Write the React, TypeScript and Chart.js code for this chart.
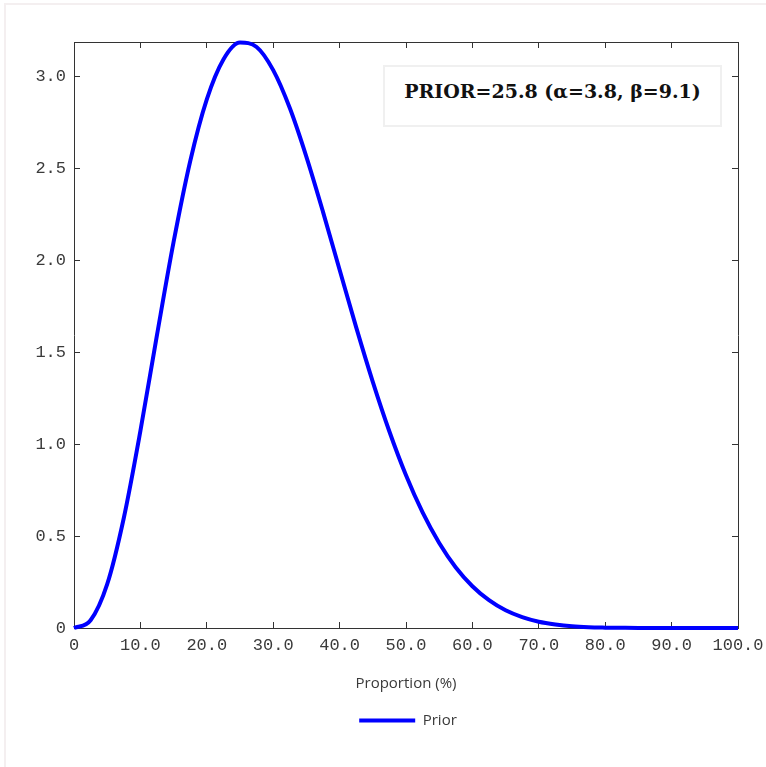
import React, { useEffect, useRef } from "react";
import { Chart, registerables } from "chart.js";

Chart.register(...registerables);

const proportions = [
  0, 2.5, 5, 7.5, 10, 12.5, 15, 17.5, 20, 22.5, 25, 27.5, 30, 32.5, 35, 37.5, 40,
  42.5, 45, 47.5, 50, 52.5, 55, 57.5, 60, 62.5, 65, 67.5, 70, 72.5, 75, 77.5, 80,
  82.5, 85, 87.5, 90, 92.5, 95, 97.5, 100,
];
const priorDensity = [
  0, 0.042, 0.238, 0.598, 1.071, 1.593, 2.098, 2.537, 2.873, 3.09, 3.182, 3.158,
  3.032, 2.826, 2.561, 2.262, 1.947, 1.634, 1.338, 1.068, 0.83, 0.628, 0.462,
  0.329, 0.227, 0.151, 0.096, 0.059, 0.034, 0.019, 0.009, 0.004, 0.002, 0.001,
  0.0002, 0, 0, 0, 0, 0, 0,
];
const xTickValues = [0, 10, 20, 30, 40, 50, 60, 70, 80, 90, 100];
const yTickValues = [0, 0.5, 1, 1.5, 2, 2.5, 3];
const seriesLabel = "Prior";
const xTitle = "Proportion (%)";
const annotationText = "PRIOR=25.8 (α=3.8, β=9.1)";

const LEFT = 74;
const RIGHT = 738;
const TOP = 42;
const W = 766;
const H = 767;

const tickFont = { family: "'Liberation Mono', 'DejaVu Sans Mono', monospace", size: 17 };
const axisColor = "#333333";
const labelColor = "#3a3a3a";

const legendToPlotCenter = {
  id: "legendToPlotCenter",
  afterLayout(chart: any) {
    const lg = chart.legend;
    if (!lg) return;
    const ca = chart.chartArea;
    const w = lg.right - lg.left;
    const shift = (ca.left + ca.right) / 2 + 2 - (lg.left + lg.right) / 2;
    lg.left += shift;
    lg.right = lg.left + w;
  },
};

const noPad = (s: any) => {
  s.paddingLeft = 0;
  s.paddingRight = 0;
  s.paddingTop = 0;
  s.paddingBottom = 0;
};

export default function App() {
  const ref = useRef<HTMLCanvasElement>(null);
  useEffect(() => {
    if (!ref.current) return;
    const xLabel = (v: number) => (v === 0 ? "0" : Number(v).toFixed(1));
    const yLabel = (v: number) => (v === 0 ? "0" : Number(v).toFixed(1));
    const chart = new Chart(ref.current, {
      type: "line",
      data: {
        datasets: [
          {
            label: seriesLabel,
            data: proportions.map((x, i) => ({ x, y: priorDensity[i] })),
            borderColor: "#0000ff",
            backgroundColor: "#0000ff",
            borderWidth: 4,
            pointRadius: 0,
            cubicInterpolationMode: "monotone",
            clip: false as any,
          },
        ],
      },
      plugins: [legendToPlotCenter],
      options: {
        animation: false,
        responsive: false,
        maintainAspectRatio: false,
        layout: { padding: { left: 0, top: TOP, right: W - RIGHT, bottom: 29 } },
        plugins: {
          tooltip: { enabled: false },
          legend: {
            position: "bottom",
            labels: {
              boxWidth: 56,
              boxHeight: 4,
              color: labelColor,
              font: { family: "'Open Sans', 'Noto Sans', sans-serif", size: 15 },
              padding: 12,
              generateLabels: (c: any) => {
                const items = Chart.defaults.plugins.legend.labels.generateLabels(c);
                return items.map((it: any) => ({ ...it, lineWidth: 0 }));
              },
            },
          },
        },
        scales: {
          x: {
            type: "linear",
            position: "bottom",
            min: 0,
            max: 100,
            afterBuildTicks: (s: any) => {
              s.ticks = xTickValues.map((value) => ({ value }));
            },
            afterFit: (s: any) => {
              s.height = 73;
              noPad(s);
            },
            ticks: {
              callback: (v: any) => xLabel(v),
              font: tickFont,
              color: labelColor,
              padding: 13,
              maxRotation: 0,
              autoSkip: false,
              includeBounds: false,
            },
            grid: { drawOnChartArea: false, tickLength: -6, color: axisColor },
            border: { color: axisColor, width: 1 },
            title: {
              display: true,
              text: xTitle,
              color: labelColor,
              font: { family: "'Open Sans', 'Noto Sans', sans-serif", size: 15 },
              padding: { top: 10, bottom: 8 },
            },
          },
          x2: {
            type: "linear",
            position: "top",
            min: 0,
            max: 100,
            afterBuildTicks: (s: any) => {
              s.ticks = xTickValues.map((value) => ({ value }));
            },
            afterFit: (s: any) => {
              s.height = 0;
              noPad(s);
            },
            ticks: { display: false },
            grid: { drawOnChartArea: false, tickLength: -6, color: axisColor },
            border: { color: axisColor, width: 1 },
          },
          y: {
            type: "linear",
            position: "left",
            min: 0,
            max: 3.185,
            afterBuildTicks: (s: any) => {
              s.ticks = yTickValues.map((value) => ({ value }));
            },
            afterFit: (s: any) => {
              s.width = LEFT;
              noPad(s);
            },
            ticks: {
              callback: (v: any) => yLabel(v),
              font: tickFont,
              color: labelColor,
              padding: 14,
              includeBounds: false,
            },
            grid: { drawOnChartArea: false, tickLength: -6, color: axisColor },
            border: { color: axisColor, width: 1 },
          },
          y2: {
            type: "linear",
            position: "right",
            min: 0,
            max: 3.185,
            afterBuildTicks: (s: any) => {
              s.ticks = yTickValues.map((value) => ({ value }));
            },
            afterFit: (s: any) => {
              s.width = 0;
              noPad(s);
            },
            ticks: { display: false },
            grid: { drawOnChartArea: false, tickLength: -6, color: axisColor },
            border: { color: axisColor, width: 1 },
          },
        },
      } as any,
    });
    return () => chart.destroy();
  }, []);

  return (
    <div style={{ position: "absolute", left: 0, top: 0, width: W, height: H, background: "#fff" }}>
      <div
        style={{
          position: "absolute",
          left: 4,
          top: 3,
          right: 0,
          bottom: 0,
          borderLeft: "2px solid #f4eff0",
          borderTop: "2px solid #f4eff0",
        }}
      />
      <canvas ref={ref} width={W} height={H} style={{ position: "absolute", left: 0, top: 0 }} />
      <div
        style={{
          position: "absolute",
          left: 383,
          top: 65,
          width: 339,
          height: 62,
          border: "2px solid #f0f0f0",
          background: "#fff",
          display: "flex",
          alignItems: "center",
          justifyContent: "center",
          fontFamily: "'DejaVu Serif', 'Liberation Serif', serif",
          fontWeight: "bold",
          fontSize: 19,
          color: "#111",
          paddingBottom: 10,
          boxSizing: "border-box",
          whiteSpace: "nowrap",
        }}
      >
        {annotationText}
      </div>
    </div>
  );
}
